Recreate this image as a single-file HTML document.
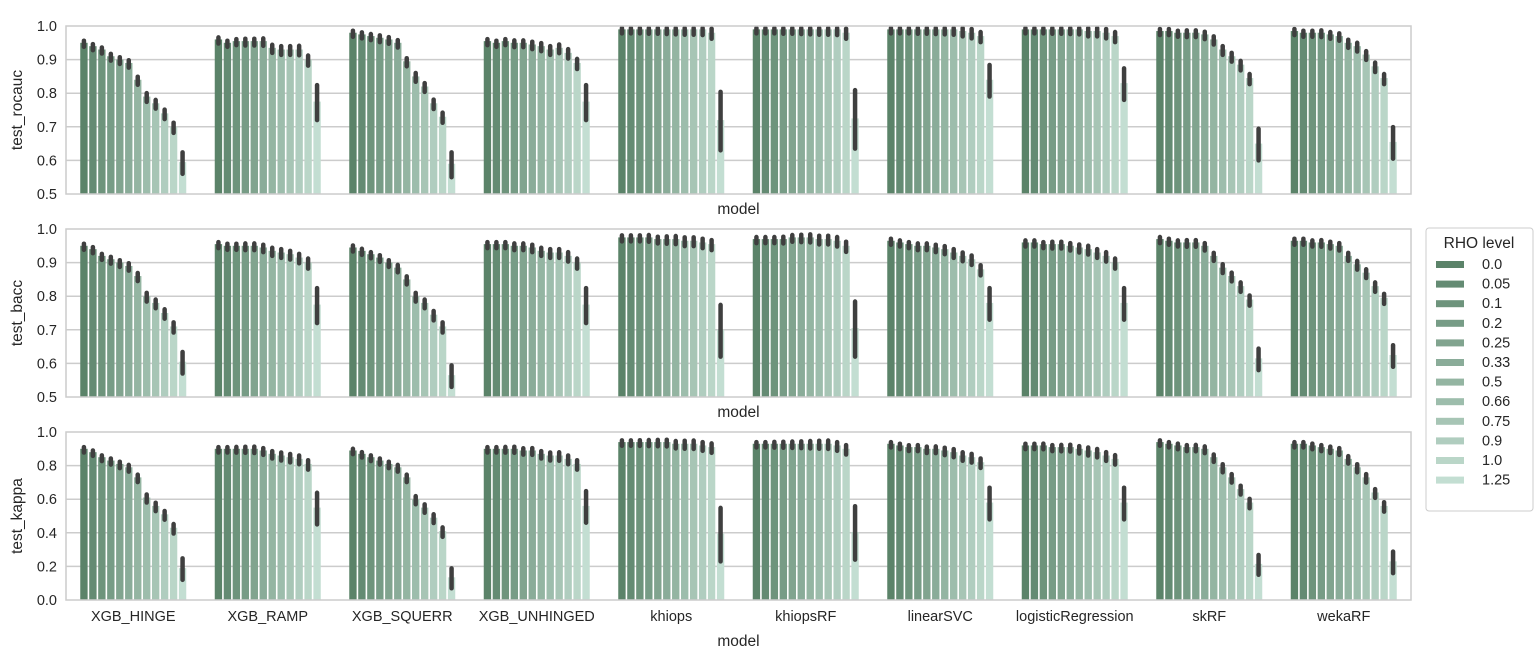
<!DOCTYPE html>
<html><head><meta charset="utf-8"><style>
body{margin:0;background:#fff;}
svg{display:block;font-family:"Liberation Sans",Arial,sans-serif;}
</style></head><body>
<svg id="chart" width="1536" height="666" xmlns="http://www.w3.org/2000/svg"></svg>
<script>
const models=["XGB_HINGE","XGB_RAMP","XGB_SQUERR","XGB_UNHINGED","khiops","khiopsRF","linearSVC","logisticRegression","skRF","wekaRF"];
const levels=["0.0","0.05","0.1","0.2","0.25","0.33","0.5","0.66","0.75","0.9","1.0","1.25"];
const rocauc=[
[0.95,0.94,0.93,0.91,0.90,0.89,0.84,0.79,0.77,0.74,0.70,0.595],
[0.96,0.95,0.955,0.955,0.955,0.955,0.935,0.93,0.93,0.93,0.90,0.775],
[0.98,0.975,0.97,0.965,0.96,0.95,0.895,0.85,0.82,0.77,0.73,0.59],
[0.955,0.95,0.955,0.95,0.95,0.945,0.94,0.93,0.935,0.92,0.89,0.775],
[0.99,0.99,0.99,0.99,0.99,0.99,0.99,0.99,0.99,0.99,0.98,0.72],
[0.99,0.99,0.99,0.99,0.99,0.99,0.99,0.99,0.99,0.99,0.98,0.725],
[0.99,0.99,0.99,0.99,0.99,0.99,0.99,0.99,0.985,0.98,0.97,0.84],
[0.99,0.99,0.99,0.99,0.99,0.99,0.99,0.985,0.985,0.98,0.97,0.83],
[0.985,0.985,0.98,0.98,0.98,0.975,0.96,0.93,0.91,0.885,0.845,0.65],
[0.985,0.98,0.98,0.98,0.975,0.97,0.95,0.94,0.915,0.88,0.845,0.655]];
const rocaucErr=[0.035,0.055,0.04,0.055,0.09,0.09,0.05,0.05,0.05,0.05];
const bacc=[
[0.95,0.94,0.92,0.91,0.90,0.89,0.86,0.80,0.78,0.75,0.71,0.605],
[0.955,0.95,0.95,0.95,0.95,0.945,0.935,0.93,0.925,0.915,0.90,0.775],
[0.945,0.935,0.925,0.915,0.90,0.885,0.85,0.80,0.78,0.745,0.71,0.565],
[0.955,0.955,0.955,0.95,0.95,0.945,0.935,0.93,0.93,0.92,0.90,0.775],
[0.975,0.975,0.975,0.975,0.97,0.97,0.97,0.965,0.965,0.96,0.955,0.70],
[0.97,0.97,0.97,0.97,0.975,0.975,0.975,0.97,0.97,0.965,0.95,0.705],
[0.965,0.96,0.955,0.95,0.95,0.945,0.94,0.93,0.92,0.91,0.88,0.78],
[0.96,0.96,0.955,0.955,0.955,0.95,0.945,0.94,0.93,0.92,0.90,0.78],
[0.97,0.965,0.96,0.96,0.96,0.95,0.92,0.885,0.86,0.83,0.79,0.615],
[0.965,0.965,0.96,0.96,0.955,0.95,0.92,0.895,0.87,0.83,0.795,0.625]];
const baccErr=[0.035,0.055,0.035,0.055,0.08,0.085,0.05,0.05,0.035,0.035];
const kappa=[
[0.90,0.88,0.85,0.83,0.81,0.79,0.73,0.61,0.56,0.51,0.43,0.19],
[0.90,0.90,0.90,0.90,0.90,0.89,0.87,0.86,0.85,0.84,0.81,0.55],
[0.89,0.87,0.85,0.83,0.81,0.79,0.73,0.60,0.55,0.49,0.41,0.135],
[0.90,0.90,0.90,0.90,0.89,0.89,0.87,0.86,0.86,0.84,0.81,0.56],
[0.94,0.94,0.94,0.94,0.94,0.94,0.93,0.93,0.93,0.92,0.91,0.395],
[0.93,0.93,0.93,0.93,0.93,0.93,0.93,0.93,0.93,0.92,0.90,0.405],
[0.93,0.92,0.91,0.91,0.90,0.90,0.89,0.88,0.86,0.85,0.82,0.58],
[0.92,0.92,0.92,0.91,0.91,0.91,0.90,0.89,0.88,0.86,0.84,0.58],
[0.94,0.93,0.92,0.91,0.91,0.90,0.85,0.79,0.73,0.66,0.58,0.215],
[0.93,0.93,0.92,0.91,0.90,0.89,0.84,0.79,0.73,0.64,0.56,0.23]];
const kappaErr=[0.07,0.1,0.065,0.1,0.165,0.165,0.1,0.1,0.065,0.07];
const smallErrR=[0.012,0.012,0.012,0.013,0.013,0.014,0.015,0.016,0.016,0.017,0.018];
const smallErrK=[0.022,0.022,0.023,0.024,0.025,0.026,0.028,0.03,0.031,0.032,0.034];
const ticksA=["0.5","0.6","0.7","0.8","0.9","1.0"];
const ticksK=["0.0","0.2","0.4","0.6","0.8","1.0"];

const svg=document.getElementById('chart');
const NS="http://www.w3.org/2000/svg";
function mk(tag,attrs,parent,name){const e=document.createElementNS(NS,tag);for(const k in attrs)e.setAttribute(k,attrs[k]);


(parent||svg).appendChild(e);return e;}
const c0=[0x5b,0x83,0x69],c1=[0xc3,0xde,0xd2];
function col(i){const t=i/11;return 'rgb('+c0.map((v,k)=>Math.round(v+(c1[k]-v)*t)).join(',')+')';}
const L=66,R=1411,W=R-L,step=W/models.length;
function xBand(m){return L+step*m+step/2;}
function panel(top,bottom,data,errLast,small,ticks,ymin,ymax,ylabel,name,showXT){
  const g=mk('g',{},svg,name);
  const y=v=>bottom-(v-ymin)/(ymax-ymin)*(bottom-top);
  ticks.forEach(t=>{const v=parseFloat(t);
    if(v>ymin&&v<ymax){mk('line',{x1:L,x2:R,y1:y(v),y2:y(v),stroke:'#cccccc','stroke-width':1.5},g,'gridline');}
    const tl=mk('text',{x:L-9,y:y(v)+5,'text-anchor':'end','font-size':14.5,fill:'#262626'},g,'y-tick-label');tl.textContent=t;});
  const bw=step*0.8/12;
  data.forEach((row,m)=>{const x0=xBand(m)-step*0.4;
    row.forEach((v,i)=>{
      const bx=x0+i*bw;
      mk('rect',{x:bx+0.8,y:y(v),width:bw-1.6,height:bottom-y(v),fill:col(i)},g,'bar-'+models[m]+'-'+levels[i]);
      const e=i==11?errLast[m]:small[i];
      const cx=bx+bw/2;
      mk('line',{x1:cx,x2:cx,y1:y(Math.min(v+e,ymax))+2,y2:y(v-e),stroke:'#3f3f3f','stroke-width':4.5,'stroke-linecap':'round'},g,'error-bar');
    });
    if(showXT){const t=mk('text',{x:xBand(m),y:bottom+21,'text-anchor':'middle','font-size':14.5,fill:'#262626'},g,'x-tick-label');t.textContent=models[m];}
  });
  mk('rect',{x:L,y:top,width:W,height:bottom-top,fill:'none',stroke:'#cccccc','stroke-width':1.5},g,'plot-frame');
  const yl=mk('text',{x:0,y:0,transform:'translate(22,'+((top+bottom)/2)+') rotate(-90)','text-anchor':'middle','font-size':15.5,fill:'#262626'},g,'y-axis-title');yl.textContent=ylabel;
  const xl=mk('text',{x:(L+R)/2,y:showXT?bottom+46:bottom+20,'text-anchor':'middle','font-size':15.5,fill:'#262626'},g,'x-axis-title');xl.textContent='model';
}
panel(26,194,rocauc,rocaucErr,smallErrR,ticksA,0.5,1.0,'test_rocauc','panel-rocauc',false);
panel(229,397,bacc,baccErr,smallErrR,ticksA,0.5,1.0,'test_bacc','panel-bacc',false);
panel(432,600,kappa,kappaErr,smallErrK,ticksK,0,1.0,'test_kappa','panel-kappa',true);
// legend
const lg=mk('g',{},svg,'legend');
mk('rect',{x:1426,y:228,width:107,height:283,rx:3,fill:'#fff',stroke:'#cccccc','stroke-width':1},lg,'legend-frame');
const lt=mk('text',{x:1479,y:248,'text-anchor':'middle','font-size':15.5,fill:'#262626'},lg,'legend-title');lt.textContent='RHO level';
levels.forEach((l,i)=>{const yy=264+i*19.6;
  mk('rect',{x:1436,y:yy-3,width:28,height:7,fill:col(i)},lg,'legend-swatch');
  const t=mk('text',{x:1482,y:yy+5,'font-size':14.5,fill:'#262626'},lg,'legend-entry');t.textContent=l;});
</script>
</body></html>
